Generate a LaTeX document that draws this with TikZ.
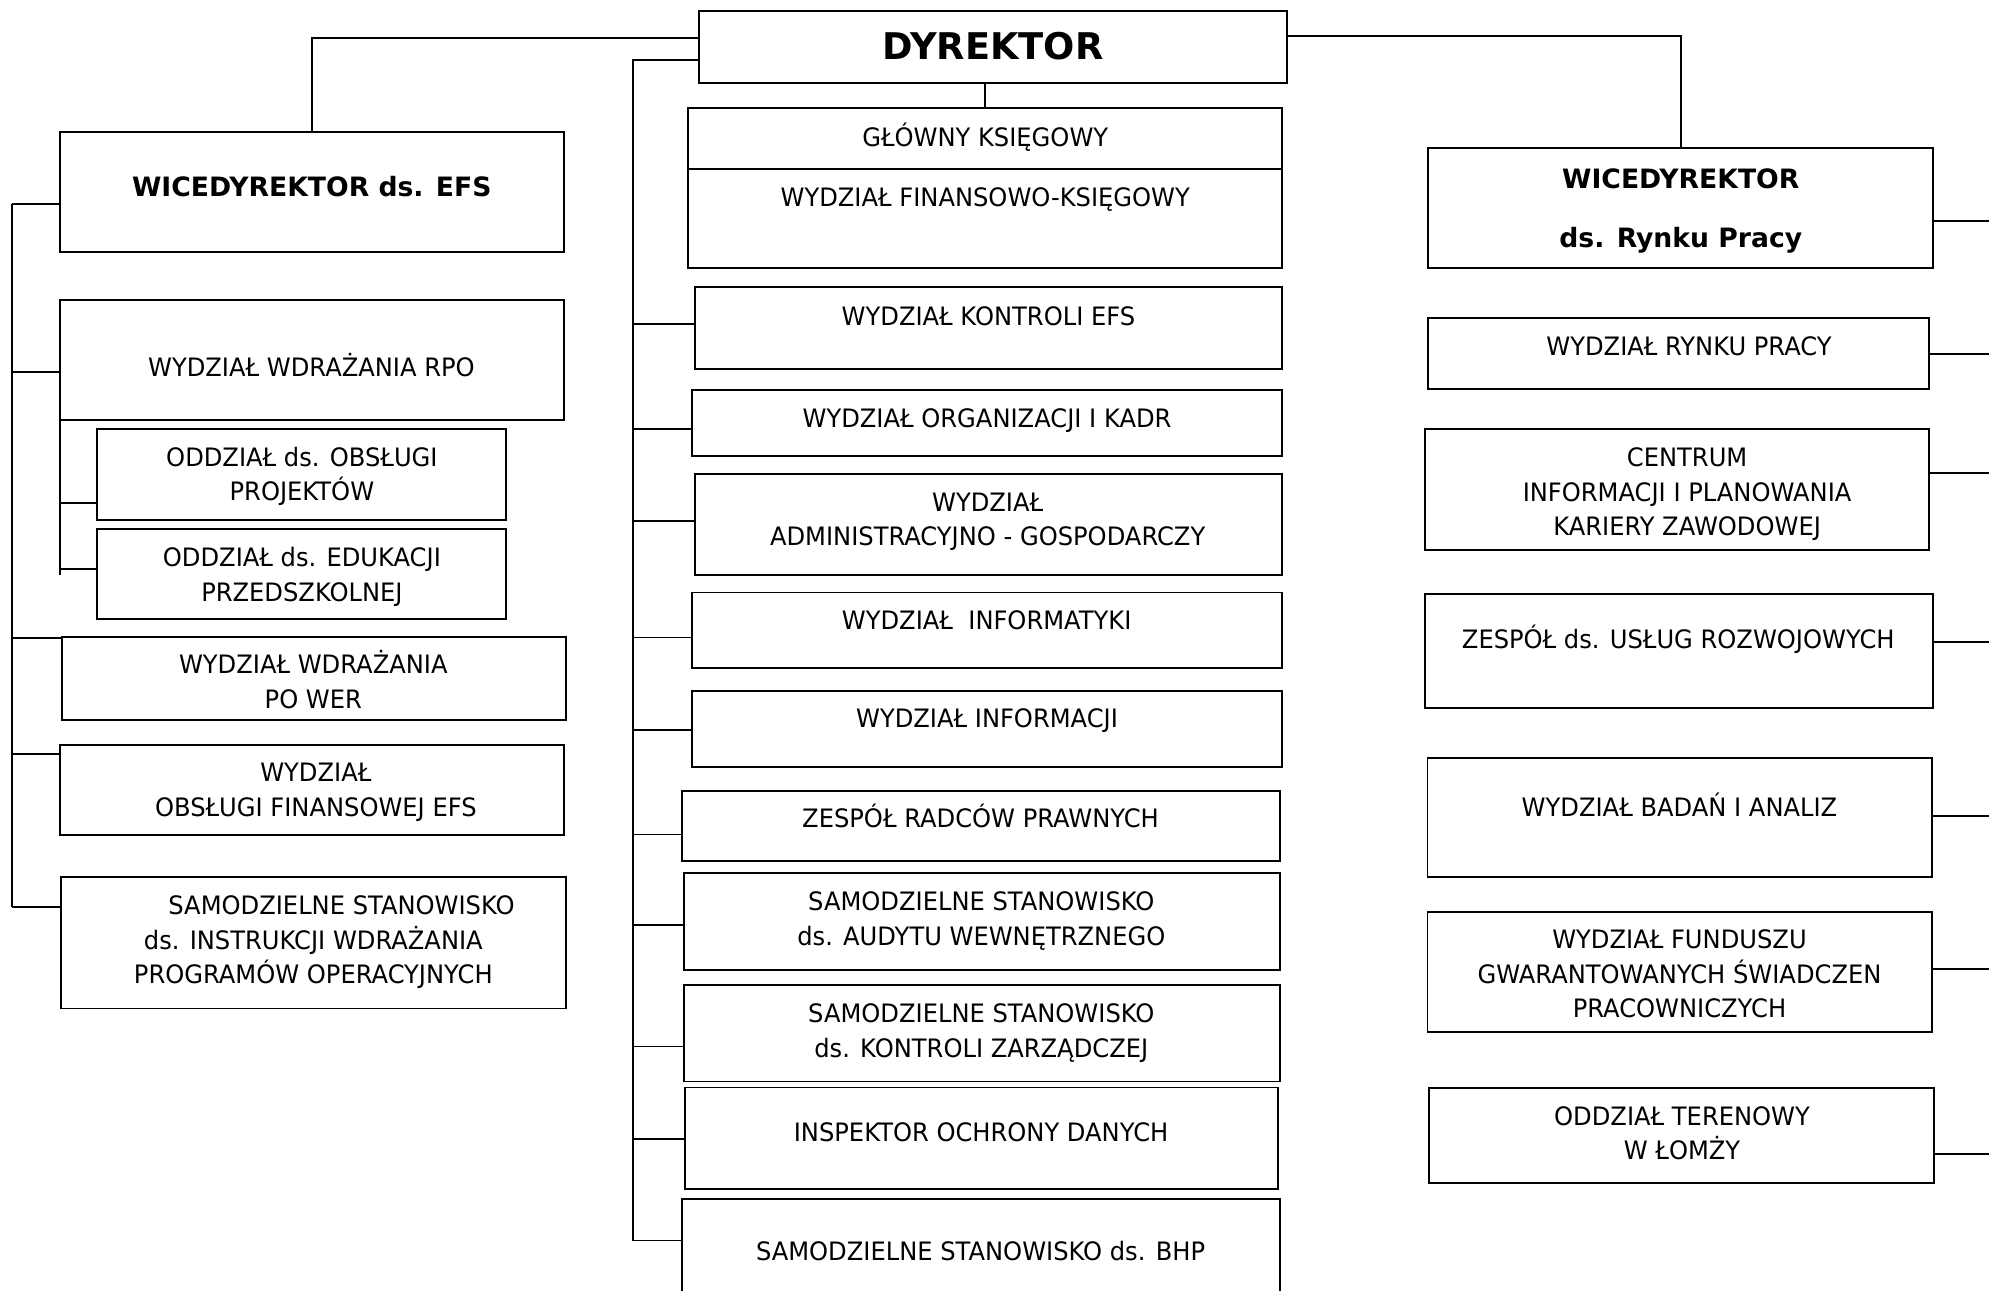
\documentclass[tikz,border=0pt]{standalone}
\usepackage{fontspec}
\setmainfont{DejaVu Sans}[FakeStretch=0.953]
\newfontfamily\bfont{DejaVu Sans}[FakeStretch=1.0]
\tikzset{
  box/.style={draw, line width=1.5pt, rectangle, inner sep=0pt, outer sep=0pt},
  txt/.style={align=center, inner sep=0pt, anchor=base, font=\fontsize{20}{27.2}\selectfont},
  btxt/.style={align=center, inner sep=0pt, anchor=base, font=\fontsize{21}{27.2}\bfont\bfseries},
  conn/.style={line width=1.4pt},
}
\newcommand\obox[5]{\node[box, minimum width={(#4)-(#2)}, minimum height={(#5)-(#3)}] (#1) at ({((#2)+(#4))/2},{((#3)+(#5))/2}) {};}
% text node: anchor=base is the baseline of the LAST line
\newcommand\otx[5][txt]{\node[#1] (#2) at (#3,#4) {#5};}
\newcommand\lbr[3]{\coordinate (#1c) at ([yshift=#2pt]#1.west); \draw[conn] (#1c) -- (#1c -| #3);}
\newcommand\rbr[3]{\coordinate (#1c) at ([yshift=#2pt]#1.east); \draw[conn] (#1c) -- (#1c -| #3);}
\begin{document}
\begin{tikzpicture}[x=1pt,y=-1pt]
\useasboundingbox (0,0) rectangle (1568,1017);
% ---- boxes: centre column
\obox{dyr}{551.1}{8.8}{1014.3}{65.4}
\obox{gk}{542.7}{85}{1010.7}{211}
\obox{kon}{547.6}{226.3}{1010.7}{291.1}
\obox{org}{545.5}{307.5}{1010.7}{359.8}
\obox{adm}{547.6}{373.9}{1010.7}{453.4}
\obox{inf}{545.5}{467.1}{1010.7}{526.5}
\obox{ifm}{545.5}{544.4}{1010.7}{605}
\obox{rad}{537.4}{623.5}{1008.7}{679.1}
\obox{aud}{539.2}{688.2}{1008.7}{764.4}
\obox{kz}{539.2}{776.8}{1008.7}{852.6}
\obox{iod}{539.9}{857.3}{1007.2}{937.4}
\obox{bhp}{537.8}{945}{1008.7}{1040}
\coordinate (gkm) at (0,133.5);
\draw[line width=1.5pt] (gk.west |- gkm) -- (gk.east |- gkm);
% ---- boxes: left column
\obox{wefs}{47.2}{104}{444.8}{198.6}
\obox{rpo}{47.2}{236.5}{444.8}{331.4}
\obox{oa}{76.7}{338}{398.7}{410.2}
\obox{ob}{76.7}{416.8}{398.7}{488}
\obox{pow}{48.6}{502.3}{446.2}{567.3}
\obox{ofin}{47.2}{587.1}{444.8}{658.3}
\obox{ssi}{48.2}{691.6}{446.2}{795}
% ---- boxes: right column
\obox{wrp}{1126}{116.8}{1523.6}{211.3}
\obox{wrpr}{1126}{250.9}{1520.9}{306.8}
\obox{cen}{1123.5}{337.9}{1520.9}{433.4}
\obox{zur}{1123.5}{468.4}{1523.6}{557.8}
\obox{bad}{1125.3}{597.2}{1522.9}{691.6}
\obox{fgs}{1125.3}{718.6}{1522.9}{813.9}
\obox{lom}{1126.7}{857.7}{1524.3}{932.7}
% ---- texts
\otx[btxt, font=\fontsize{29}{30}\bfont\bfseries]{tdyr}{782.7}{47}{DYREKTOR}
\otx{tgk}{776.7}{115.5}{GŁÓWNY KSIĘGOWY}
\otx{tfk}{776.7}{162.7}{WYDZIAŁ FINANSOWO-KSIĘGOWY}
\otx{tkon}{779.2}{256.7}{WYDZIAŁ KONTROLI EFS}
\otx{torg}{778.1}{336.9}{WYDZIAŁ ORGANIZACJI I KADR}
\otx{tadm}{778.6}{430.1}{WYDZIAŁ\\ADMINISTRACYJNO - GOSPODARCZY}
\otx{tinf}{777.8}{496.1}{WYDZIAŁ\ \ INFORMATYKI}
\otx{tifm}{778.1}{573.9}{WYDZIAŁ INFORMACJI}
\otx{trad}{773}{652.3}{ZESPÓŁ RADCÓW PRAWNYCH}
\otx{taud}{773.6}{745.3}{SAMODZIELNE STANOWISKO\\ds. AUDYTU WEWNĘTRZNEGO}
\otx{tkz}{773.6}{833.5}{SAMODZIELNE STANOWISKO\\ds. KONTROLI ZARZĄDCZEJ}
\otx{tiod}{773.4}{899.9}{INSPEKTOR OCHRONY DANYCH}
\otx{tbhp}{773}{994}{SAMODZIELNE STANOWISKO ds. BHP}
\otx[btxt]{twefs}{245.8}{155}{WICEDYREKTOR ds. EFS}
\otx{trpo}{245.5}{296.5}{WYDZIAŁ WDRAŻANIA RPO}
\otx{toa}{238}{394.8}{ODDZIAŁ ds. OBSŁUGI\\PROJEKTÓW}
\otx{tob}{238}{474.1}{ODDZIAŁ ds. EDUKACJI\\PRZEDSZKOLNEJ}
\otx{tpow}{247}{558.3}{WYDZIAŁ WDRAŻANIA\\PO WER}
\otx{tofin}{249}{643.4}{WYDZIAŁ\\OBSŁUGI FINANSOWEJ EFS}
\otx{tssi}{247}{775.7}{\hspace*{44.5pt}SAMODZIELNE STANOWISKO\\ds. INSTRUKCJI WDRAŻANIA\\PROGRAMÓW OPERACYJNYCH}
\otx[btxt]{twrp}{1325}{194.8}{WICEDYREKTOR\\[19.2pt]ds. Rynku Pracy}
\otx{twrpr}{1331.5}{280.3}{WYDZIAŁ RYNKU PRACY}
\otx{tcen}{1330}{422.3}{CENTRUM\\INFORMACJI I PLANOWANIA\\KARIERY ZAWODOWEJ}
\otx{tzur}{1323}{511.5}{ZESPÓŁ ds. USŁUG ROZWOJOWYCH}
\otx{tbad}{1324}{643.5}{WYDZIAŁ BADAŃ I ANALIZ}
\otx{tfgs}{1324}{802.2}{WYDZIAŁ FUNDUSZU\\GWARANTOWANYCH ŚWIADCZEN\\PRACOWNICZYCH}
\otx{tlom}{1326}{914.1}{ODDZIAŁ TERENOWY\\W ŁOMŻY}
% ---- connectors from the director
\coordinate (tl) at (246,30.1);
\draw[conn] (dyr.west |- tl) -- (tl) -- (wefs.north);
\coordinate (tr) at (1325,28.2);
\draw[conn] (dyr.east |- tr) -- (tr) -- (tr |- wrp.north);
\draw[conn] (gk.north) -- (gk.north |- dyr.south);
% ---- centre trunk
\coordinate (ct) at (499,47.4);
\coordinate (cb) at (499,978);
\draw[conn] (dyr.west |- ct) -- (ct) -- (cb) -- (cb -| bhp.west);
\lbr{kon}{3.5}{ct}
\lbr{org}{-4.25}{ct}
\lbr{adm}{3.15}{ct}
\lbr{inf}{-5.7}{ct}
\lbr{ifm}{-1}{ct}
\lbr{rad}{-6.6}{ct}
\lbr{aud}{-2.7}{ct}
\lbr{kz}{-10.3}{ct}
\lbr{iod}{-0.65}{ct}
% ---- left trunk
\coordinate (lx) at (9.5,0);
\lbr{wefs}{-9.6}{lx}
\lbr{rpo}{-9.45}{lx}
\lbr{pow}{31.6}{lx}
\lbr{ofin}{28.5}{lx}
\lbr{ssi}{28.1}{lx}
\draw[conn] (wefsc -| lx) -- (ssic -| lx);
% ---- sub-trunk under WYDZIAŁ WDRAŻANIA RPO
\lbr{oa}{-22.7}{rpo.south west}
\lbr{ob}{3.8}{rpo.south west}
\coordinate (sbe) at (47.2,453.3);
\draw[conn] (rpo.south west) -- (sbe);
% ---- right connectors
\coordinate (rx) at (1580,0);
\rbr{wrp}{-9.95}{rx}
\rbr{wrpr}{-0.15}{rx}
\rbr{cen}{12.65}{rx}
\rbr{zur}{7.1}{rx}
\rbr{bad}{1.4}{rx}
\rbr{fgs}{2.25}{rx}
\rbr{lom}{-14.3}{rx}
\end{tikzpicture}
\end{document}
